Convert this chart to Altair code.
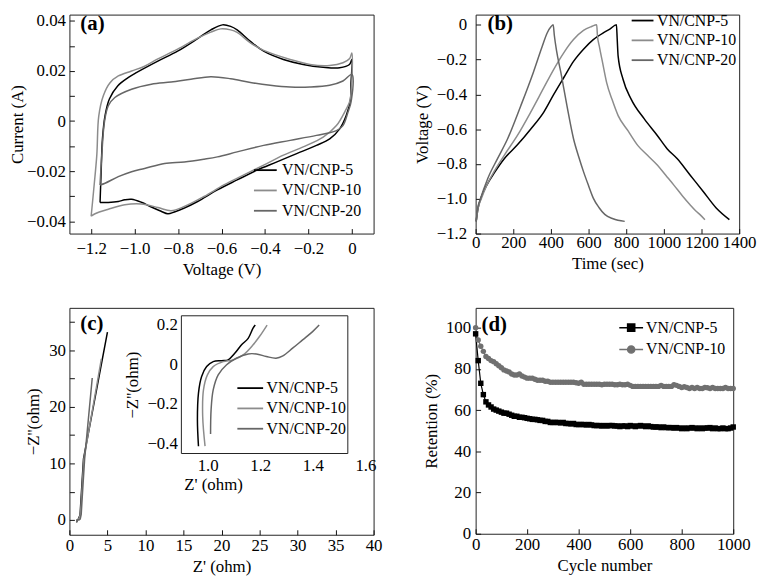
import altair as alt
import pandas as pd

FONT = "Liberation Serif"
SERIES = ["VN/CNP-5", "VN/CNP-10", "VN/CNP-20"]
COLORS = ["#000000", "#8c8c8c", "#666666"]
SERIES_D = ["VN/CNP-5", "VN/CNP-10"]
COLORS_D = ["#000000", "#707070"]
PANEL_LABELS = ["(a)", "(b)", "(c)", "(d)"]

# ---------------- (a) cyclic voltammetry ----------------
cv5_v = [-1.159, -1.154, -1.148, -1.136, -1.116, -1.078, -1.030, -0.992, -0.893, -0.802, -0.710, -0.649,
         -0.596, -0.558, -0.528, -0.467, -0.406, -0.315, -0.224, -0.132, -0.056, -0.011, 0.0, -0.004,
         -0.006, -0.026, -0.056, -0.102, -0.163, -0.254, -0.345, -0.437, -0.528, -0.619, -0.710, -0.771,
         -0.817, -0.847, -0.878, -0.923, -0.969, -1.014, -1.045, -1.075, -1.121, -1.159]
cv5_i = [-0.0325, -0.0202, -0.0071, 0.0022, 0.0088, 0.0140, 0.0173, 0.0193, 0.0239, 0.0279, 0.0329, 0.0364,
         0.0384, 0.0378, 0.0364, 0.0318, 0.0279, 0.0246, 0.0226, 0.0215, 0.0213, 0.0226, 0.0246, 0.0150,
         0.0088, 0.0022, -0.0031, -0.0071, -0.0097, -0.0130, -0.0163, -0.0196, -0.0235, -0.0275, -0.0321, -0.0347,
         -0.0363, -0.0370, -0.0360, -0.0343, -0.0324, -0.0312, -0.0314, -0.0321, -0.0325, -0.0325]
cv10_v = [-1.200, -1.189, -1.174, -1.165, -1.144, -1.113, -1.075, -1.014, -0.954, -0.893, -0.802, -0.710,
          -0.649, -0.604, -0.558, -0.528, -0.467, -0.406, -0.284, -0.193, -0.102, -0.041, -0.010, 0.0,
          -0.003, -0.011, -0.026, -0.071, -0.132, -0.224, -0.315, -0.406, -0.497, -0.589, -0.680, -0.771,
          -0.832, -0.893, -0.969, -1.045, -1.121, -1.182, -1.200]
cv10_i = [-0.0380, -0.0281, -0.0136, 0.0020, 0.0101, 0.0153, 0.0180, 0.0200, 0.0219, 0.0248, 0.0287, 0.0331,
          0.0355, 0.0368, 0.0364, 0.0354, 0.0312, 0.0282, 0.0246, 0.0226, 0.0222, 0.0233, 0.0250, 0.0272,
          0.0120, 0.0075, 0.0048, -0.0018, -0.0064, -0.0103, -0.0136, -0.0176, -0.0215, -0.0255, -0.0301, -0.0341,
          -0.0358, -0.0345, -0.0331, -0.0334, -0.0352, -0.0370, -0.0380]
cv20_v = [-1.159, -1.151, -1.139, -1.121, -1.091, -1.014, -0.923, -0.832, -0.741, -0.649, -0.558, -0.467,
          -0.376, -0.284, -0.193, -0.102, -0.041, 0.0, -0.003, -0.018, -0.041, -0.071, -0.163, -0.284,
          -0.406, -0.528, -0.619, -0.680, -0.771, -0.862, -0.954, -1.014, -1.075, -1.136, -1.159]
cv20_i = [-0.0255, -0.0136, -0.0005, 0.0061, 0.0094, 0.0127, 0.0147, 0.0156, 0.0167, 0.0177, 0.0169, 0.0154,
          0.0143, 0.0136, 0.0136, 0.0143, 0.0160, 0.0186, 0.0080, 0.0035, -0.0018, -0.0038, -0.0057, -0.0077,
          -0.0097, -0.0123, -0.0143, -0.0152, -0.0163, -0.0169, -0.0189, -0.0202, -0.0222, -0.0248, -0.0255]

# ---------------- (b) galvanostatic charge/discharge ----------------
gcd5_t = [3, 12, 30, 60, 100, 152, 222, 292, 363, 415, 470, 520, 573, 625, 680, 713, 748,
          752, 757, 783, 826, 896, 965, 1017, 1070, 1139, 1209, 1278, 1348]
gcd5_u = [-1.13, -1.06, -0.99, -0.92, -0.85, -0.77, -0.69, -0.60, -0.50, -0.40, -0.30, -0.21, -0.14, -0.085,
          -0.045, -0.025, 0.0, -0.08, -0.18, -0.313, -0.427, -0.541, -0.636, -0.712, -0.769, -0.863, -0.958,
          -1.053, -1.12]
gcd10_t = [3, 12, 30, 60, 100, 152, 222, 292, 363, 415, 468, 520, 573, 616, 643,
           647, 657, 675, 696, 725, 757, 810, 861, 913, 965, 1010, 1052, 1100, 1139, 1170, 1192, 1218]
gcd10_u = [-1.13, -1.06, -1.0, -0.92, -0.84, -0.75, -0.636, -0.503, -0.36, -0.256, -0.161, -0.085, -0.032,
           -0.01, 0.0, -0.06, -0.123, -0.22, -0.332, -0.43, -0.522, -0.61, -0.693, -0.75, -0.806, -0.865,
           -0.92, -0.985, -1.034, -1.07, -1.091, -1.12]
gcd20_t = [3, 10, 26, 65, 117, 170, 240, 306, 354, 380, 401, 412,
           418, 430, 453, 485, 520, 548, 573, 600, 625, 655, 686, 730, 792]
gcd20_u = [-1.13, -1.06, -1.0, -0.882, -0.768, -0.655, -0.465, -0.275, -0.123, -0.047, -0.01, 0.0,
           -0.06, -0.15, -0.275, -0.465, -0.655, -0.76, -0.844, -0.925, -0.996, -1.05, -1.09, -1.115, -1.13]

# ---------------- (c) Nyquist ----------------
# high-frequency part (also shown in the inset)
eis5_re = [0.965, 0.961, 0.965, 0.977, 0.996, 1.021, 1.053, 1.078, 1.103, 1.128, 1.154, 1.172, 1.181]
eis5_im = [-0.415, -0.281, -0.146, -0.062, -0.012, 0.013, 0.018, 0.022, 0.055, 0.097, 0.131, 0.181, 0.198]
eis10_re = [0.990, 0.981, 0.984, 0.999, 1.021, 1.059, 1.097, 1.135, 1.172, 1.197, 1.226]
eis10_im = [-0.415, -0.264, -0.130, -0.054, -0.012, 0.013, 0.022, 0.047, 0.097, 0.140, 0.198]
eis20_re = [1.011, 1.013, 1.021, 1.040, 1.072, 1.109, 1.154, 1.185, 1.223, 1.260, 1.286, 1.323, 1.361, 1.399, 1.424]
eis20_im = [-0.353, -0.230, -0.130, -0.054, -0.003, 0.030, 0.052, 0.052, 0.039, 0.030, 0.042, 0.081, 0.123, 0.165, 0.198]
# low-frequency tail (main plot only)
tail5_re = [1.4, 1.5, 1.65, 1.85, 5.0]
tail5_im = [0.9, 3.2, 6.5, 10.8, 33.2]
tail10_re = [1.45, 1.55, 1.7, 1.9, 4.2]
tail10_im = [1.0, 3.2, 6.5, 10.8, 28.5]
tail20_re = [1.55, 1.65, 1.8, 2.0, 3.0]
tail20_im = [1.0, 3.3, 6.5, 10.8, 25.1]

# ---------------- (d) cycling retention ----------------
ret_cycle = [0, 10, 20, 30, 40, 50, 60, 70, 80, 90,
             100, 110, 120, 130, 140, 150, 160, 170, 180, 190,
             200, 210, 220, 230, 240, 250, 260, 270, 280, 290,
             300, 310, 320, 330, 340, 350, 360, 370, 380, 390,
             400, 410, 420, 430, 440, 450, 460, 470, 480, 490,
             500, 510, 520, 530, 540, 550, 560, 570, 580, 590,
             600, 610, 620, 630, 640, 650, 660, 670, 680, 690,
             700, 710, 720, 730, 740, 750, 760, 770, 780, 790,
             800, 810, 820, 830, 840, 850, 860, 870, 880, 890,
             900, 910, 920, 930, 940, 950, 960, 970, 980, 990,
             1000]
ret5 = [97, 84, 73, 67.5, 64, 62.5, 61.5, 60.5, 60, 59.5,
        59, 58.5, 58.5, 58, 57.5, 57, 57, 56.5, 56.5, 56.3,
        56, 55.8, 55.5, 55.5, 55.3, 55, 55, 54.5, 54.5, 54,
        54, 54, 54, 53.8, 54, 53.5, 53.5, 53.3, 53.5, 53,
        53, 53, 53, 52.8, 53, 52.8, 52.5, 52.5, 52.5, 52.3,
        52.5, 52.3, 52.5, 52.5, 52.3, 52.3, 52, 52.3, 52.3, 52,
        52.5, 52.3, 52, 52.3, 52.5, 52.3, 52, 52.3, 52, 51.8,
        51.8, 51.8, 51.5, 51.8, 51.5, 51.5, 51.5, 51.3, 51.5, 51.3,
        51, 51.3, 51, 51.3, 51.5, 51.3, 51, 51.3, 51, 51.3,
        51.3, 51.5, 51, 51.3, 51, 51, 51.3, 51, 51, 51.3,
        51.8]
ret10 = [100, 94, 91, 88.5, 86, 85, 84, 83.5, 82.5, 81.5,
         80.5, 79.5, 79, 78.5, 77.5, 77, 77, 77.5, 76.5, 76,
         75.5, 75.5, 75.5, 75, 74.5, 74.5, 74.5, 74, 74, 73.5,
         73.5, 73.5, 73.5, 73.5, 73.5, 73.5, 73.5, 73.5, 73.5, 73.3,
         73, 73.5, 72.5, 72.5, 72.5, 72.5, 72.5, 72.5, 72.5, 72.3,
         72.5, 72.5, 72.5, 72.5, 72.3, 72.3, 72.5, 72.3, 72.3, 72.5,
         72, 71.5, 71.5, 71.5, 71.5, 71.5, 71.5, 71.5, 71.5, 71.5,
         71.5, 71.5, 72, 71.5, 71.5, 71.5, 71.5, 72.3, 72, 71.5,
         71, 71.3, 71, 70.5, 71, 70.5, 71, 70.5, 70.5, 71,
         70.8, 70.5, 71, 70.5, 70.5, 70.5, 70.5, 71, 70.5, 70.5,
         70.5]

# ---------------- tick values ----------------
A_X_TICKS = [-1.2, -1.0, -0.8, -0.6, -0.4, -0.2, 0]
A_Y_TICKS = [-0.04, -0.03, -0.02, -0.01, 0, 0.01, 0.02, 0.03, 0.04]
B_X_TICKS = [0, 200, 400, 600, 800, 1000, 1200, 1400]
B_Y_TICKS = [-1.2, -1.0, -0.8, -0.6, -0.4, -0.2, 0]
C_X_TICKS = [0, 5, 10, 15, 20, 25, 30, 35, 40]
C_Y_TICKS = [0, 5, 10, 15, 20, 25, 30, 35]
CI_X_TICKS = [1.0, 1.2, 1.4, 1.6]
CI_Y_TICKS = [-0.4, -0.3, -0.2, -0.1, 0, 0.1, 0.2]
D_X_TICKS = [0, 200, 400, 600, 800, 1000]
D_Y_TICKS = [0, 20, 40, 60, 80, 100]

EXPR_1F = "abs(datum.value) < 1e-9 ? '0' : format(datum.value, '.1f')"
EXPR_A_Y = ("abs(round(datum.value*100)) % 2 == 0 ? "
            "(abs(datum.value) < 1e-9 ? '0' : format(datum.value, '.2f')) : ''")
EXPR_C_Y = "abs(round(datum.value)) % 10 == 0 ? format(datum.value, 'd') : ''"
EXPR_CI_Y = ("abs(round(datum.value*10)) % 2 == 0 ? "
             "(abs(datum.value) < 1e-9 ? '0' : format(datum.value, '.1f')) : ''")

AX_FS = 17
LEG_FS = 16
LINE_SYMBOL = "M-2,0L2,0"


def make_df(names, xs, ys, xn, yn):
    rows = []
    for s, xv, yv in zip(names, xs, ys):
        assert len(xv) == len(yv), s
        for k, (a, b) in enumerate(zip(xv, yv)):
            rows.append({"series": s, xn: a, yn: b, "idx": k})
    return pd.DataFrame(rows)


def ax(values, title, orient, expr=None, fmt=None, lab_gap=4, title_pad=4, **extra):
    d = dict(values=values, title=title, orient=orient, tickSize=alt.ExprRef(expr="-5"),
             labelPadding=lab_gap + 5, titlePadding=title_pad, domain=False, grid=False,
             labelOverlap=False, labelFlush=False, tickColor="#111", tickWidth=1,
             labelFont=FONT, labelFontSize=AX_FS, labelColor="black",
             titleFont=FONT, titleFontSize=AX_FS, titleFontWeight="normal", titleColor="black")
    if expr is not None:
        d["labelExpr"] = expr
    if fmt is not None:
        d["format"] = fmt
    d.update(extra)
    return alt.Axis(**d)


def leg(x, y, size, offset, rowpad, **extra):
    d = dict(title=None, orient="none", legendX=x, legendY=y, symbolSize=size, labelOffset=offset,
             rowPadding=rowpad, padding=0, labelFont=FONT, labelFontSize=LEG_FS, labelColor="black",
             symbolStrokeWidth=1.8)
    d.update(extra)
    return alt.Legend(**d)


def line_leg(x_start, y, length, gap, rowpad):
    # custom line symbol: its half-length equals sqrt(size)
    half = length / 4.0
    size = (2 * half) ** 2
    return leg(x_start + half, y, size, half + gap, rowpad, symbolType=LINE_SYMBOL)


def letter(i, x, y):
    return alt.Chart(pd.DataFrame({"t": [PANEL_LABELS[i]]})).mark_text(
        font=FONT, fontSize=21, fontWeight="bold", align="left", baseline="middle", color="black"
    ).encode(text="t:N", x=alt.value(x), y=alt.value(y))


color3 = alt.Scale(domain=SERIES, range=COLORS)

# ---------------- panel (a) ----------------
df_a = make_df(SERIES, [cv5_v, cv10_v, cv20_v], [cv5_i, cv10_i, cv20_i], "v", "i")
a_line = alt.Chart(df_a).mark_line(strokeWidth=1.5, interpolate="catmull-rom").encode(
    x=alt.X("v:Q", scale=alt.Scale(domain=[-1.3, 0.1], nice=False, zero=False),
            axis=ax(A_X_TICKS, "Voltage (V)", "bottom", expr=EXPR_1F, lab_gap=7, title_pad=5)),
    y=alt.Y("i:Q", scale=alt.Scale(domain=[-0.0449, 0.0425], nice=False, zero=False),
            axis=ax(A_Y_TICKS, "Current (A)", "left", expr=EXPR_A_Y, lab_gap=4, title_pad=0)),
    color=alt.Color("series:N", scale=color3, legend=line_leg(184, 149, 23, 3, 4.5)),
    order="idx:Q",
)
pa = alt.layer(a_line, letter(0, 11, 10)).properties(width=307, height=221)

# ---------------- panel (b) ----------------
df_b = make_df(SERIES, [gcd5_t, gcd10_t, gcd20_t], [gcd5_u, gcd10_u, gcd20_u], "t", "u")
b_line = alt.Chart(df_b).mark_line(strokeWidth=1.5, interpolate="monotone").encode(
    x=alt.X("t:Q", scale=alt.Scale(domain=[0, 1400], nice=False, zero=False),
            axis=ax(B_X_TICKS, "Time (sec)", "bottom", fmt="d", lab_gap=1, title_pad=5)),
    y=alt.Y("u:Q", scale=alt.Scale(domain=[-1.2, 0.0587], nice=False, zero=False),
            axis=ax(B_Y_TICKS, "Voltage (V)", "left", expr=EXPR_1F, lab_gap=9, title_pad=5)),
    color=alt.Color("series:N", scale=color3, legend=line_leg(155, -2, 22, 1, 4)),
    order="idx:Q",
)
pb = alt.layer(b_line, letter(1, 12, 10)).properties(width=266, height=221)

# ---------------- panel (c) ----------------
df_c = make_df(SERIES,
               [eis5_re + tail5_re, eis10_re + tail10_re, eis20_re + tail20_re],
               [eis5_im + tail5_im, eis10_im + tail10_im, eis20_im + tail20_im], "zr", "zi")
df_ci = make_df(SERIES, [eis5_re, eis10_re, eis20_re], [eis5_im, eis10_im, eis20_im], "zr", "zi")

c_main = alt.Chart(df_c).mark_line(strokeWidth=1.5).encode(
    x=alt.X("zr:Q", scale=alt.Scale(domain=[0, 40], nice=False, zero=False),
            axis=ax(C_X_TICKS, "Z' (ohm)", "bottom", fmt="d", lab_gap=3, title_pad=5)),
    y=alt.Y("zi:Q", scale=alt.Scale(domain=[-2.6, 37.5], nice=False, zero=False),
            axis=ax(C_Y_TICKS, "\u2212Z''(ohm)", "left", expr=EXPR_C_Y, lab_gap=4, title_pad=6)),
    color=alt.Color("series:N", scale=color3, legend=None),
    order="idx:Q",
)
c_frame = alt.Chart(pd.DataFrame({"k": [0]})).mark_rect(fill="white", stroke="#222", strokeWidth=1).encode(
    x=alt.value(113), x2=alt.value(281), y=alt.value(8), y2=alt.value(147))
c_inset = alt.Chart(df_ci).mark_line(strokeWidth=1.5, interpolate="catmull-rom").encode(
    x=alt.X("zr:Q", scale=alt.Scale(domain=[0.9, 1.6], range=[113, 298.8], nice=False, zero=False),
            axis=ax(CI_X_TICKS, "Z' (ohm)", "bottom", expr="format(datum.value, '.1f')", lab_gap=4,
                    title_pad=3, offset=-82, titleX=145,
                    tickOpacity={"condition": {"test": "datum.value > 1.5", "value": 0}, "value": 1})),
    y=alt.Y("zi:Q", scale=alt.Scale(domain=[-0.452, 0.245], range=[147, 8], nice=False, zero=False),
            axis=ax(CI_Y_TICKS, "\u2212Z''(ohm)", "left", expr=EXPR_CI_Y, lab_gap=4, title_pad=5,
                    offset=-113)),
    color=alt.Color("series:N", scale=color3, legend=line_leg(168, 73, 26, 2, 4.5)),
    order="idx:Q",
)
pc = alt.layer(c_main, c_frame, c_inset, letter(2, 11, 16)).resolve_scale(
    x="independent", y="independent", color="independent"
).properties(width=307, height=229)

# ---------------- panel (d) ----------------
df_d = make_df(SERIES_D, [ret_cycle, ret_cycle], [ret5, ret10], "cyc", "ret")
colorD = alt.Scale(domain=SERIES_D, range=COLORS_D)
xd = alt.X("cyc:Q", scale=alt.Scale(domain=[0, 1000], nice=False, zero=False),
           axis=ax(D_X_TICKS, "Cycle number", "bottom", fmt="d", lab_gap=3, title_pad=5))
yd = alt.Y("ret:Q", scale=alt.Scale(domain=[0, 109.6], nice=False, zero=False),
           axis=ax(D_Y_TICKS, "Retention (%)", "left", fmt="d", lab_gap=5, title_pad=5))
d_line = alt.Chart(df_d).mark_line(strokeWidth=1.2).encode(
    x=xd, y=yd, color=alt.Color("series:N", scale=colorD, legend=None), order="idx:Q")
d_pts = alt.Chart(df_d).mark_point(filled=True, size=30, opacity=1).encode(
    x=xd, y=yd, color=alt.Color("series:N", scale=colorD, legend=None),
    shape=alt.Shape("series:N", scale=alt.Scale(domain=SERIES_D, range=["square", "circle"]), legend=None))
SQ_PATH = "M-1,0L-0.3,0M0.3,0L1,0M-0.3,-0.3L0.3,-0.3L0.3,0.3L-0.3,0.3Z"
CI_PATH = "M-1,0L-0.3,0M0.3,0L1,0M-0.3,0A0.3,0.3,0,1,1,0.3,0A0.3,0.3,0,1,1,-0.3,0Z"
LEG_D = leg(144, 7, 576, 2, 1, symbolStrokeWidth=1.5)
d_leg = alt.Chart(df_d).transform_filter("false").mark_point(filled=True, opacity=1, strokeWidth=1.5).encode(
    color=alt.Color("series:N", scale=alt.Scale(domain=SERIES_D, range=COLORS_D), legend=LEG_D),
    stroke=alt.Stroke("series:N", scale=alt.Scale(domain=SERIES_D, range=COLORS_D), legend=LEG_D),
    shape=alt.Shape("series:N", scale=alt.Scale(domain=SERIES_D, range=[SQ_PATH, CI_PATH]), legend=LEG_D),
)
pd_ = alt.layer(d_line, d_pts, d_leg, letter(3, 6, 17)).resolve_scale(
    color="independent", shape="independent", stroke="independent"
).properties(width=260, height=228)

chart = alt.concat(pa, pb, pc, pd_, columns=2, bounds="flush", align="none",
                   spacing={"row": 75, "column": 103}).resolve_scale(
    color="independent", shape="independent", stroke="independent"
).properties(padding=0, background="white").configure_view(stroke="#222", strokeWidth=1)

chart.save("out.html", embed_options={"renderer": "svg", "actions": False})
